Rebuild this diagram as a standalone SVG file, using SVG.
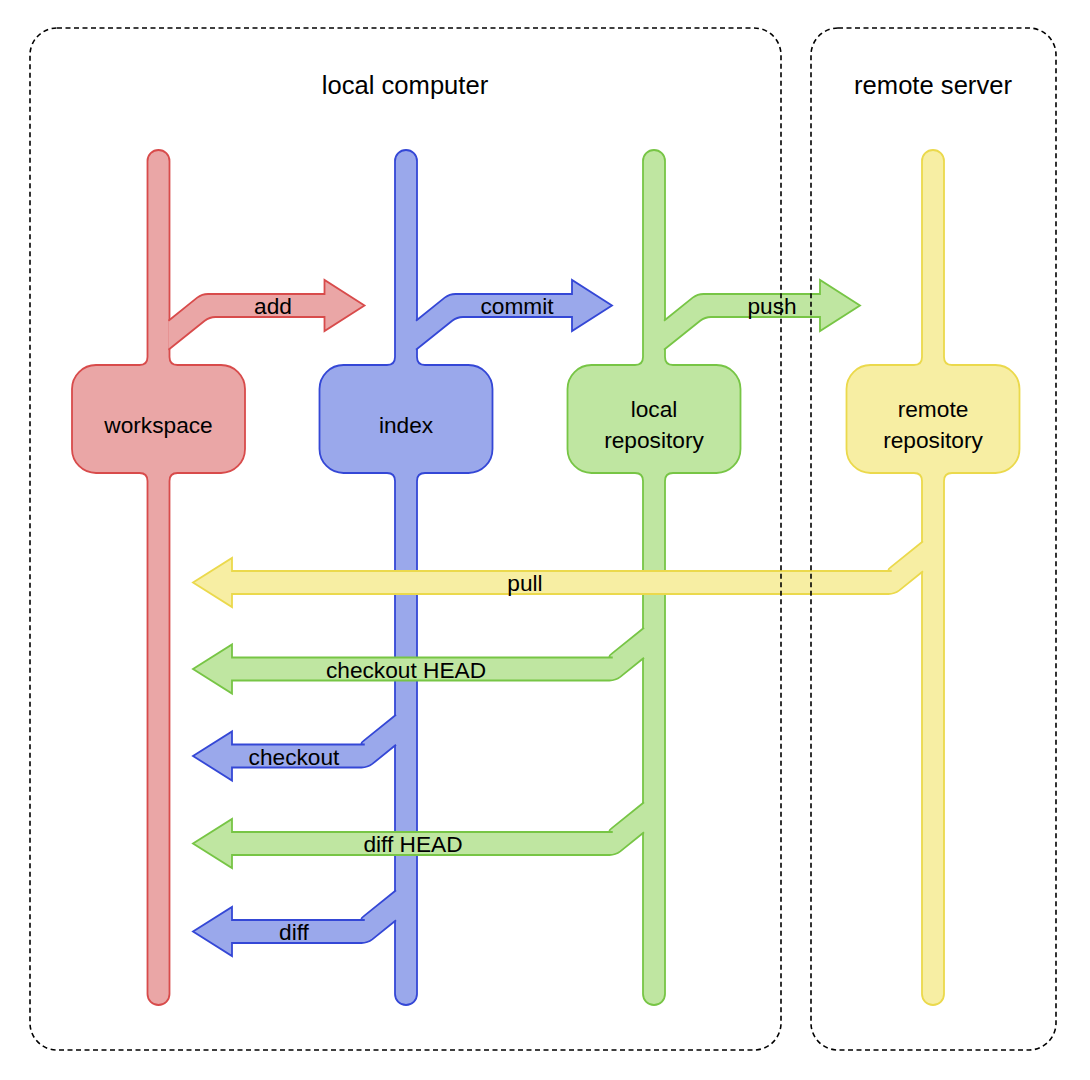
<svg xmlns="http://www.w3.org/2000/svg" xmlns:xlink="http://www.w3.org/1999/xlink" width="1090" height="1080" viewBox="0 0 1090 1080">
<style>
text{font-family:"Liberation Sans",Arial,"Noto Sans",sans-serif;fill:#000;text-anchor:middle;dominant-baseline:central}
.lbl{font-size:22.7px}
.hdr{font-size:25.6px}
.red{fill:#EAA6A6;stroke:#D84B4B;stroke-width:1.8}
.blue{fill:#9AA8EB;stroke:#3447D6;stroke-width:1.8}
.green{fill:#BFE6A1;stroke:#77C545;stroke-width:1.8}
.yellow{fill:#F7EEA3;stroke:#EBD94C;stroke-width:1.8}
.box{fill:none;stroke:#000;stroke-width:1.6;stroke-dasharray:5 3.5}
</style>
<defs>
<path id="pipe" d="M-11,161 A11,11 0 0 1 11,161 L11,357 Q11,365 19,365 L62.5,365 A24,24 0 0 1 86.5,389 L86.5,449 A24,24 0 0 1 62.5,473 L19,473 Q11,473 11,481 L11,994 A11,11 0 0 1 -11,994 L-11,481 Q-11,473 -19,473 L-62.5,473 A24,24 0 0 1 -86.5,449 L-86.5,389 A24,24 0 0 1 -62.5,365 L-19,365 Q-11,365 -11,357 Z"/>
<path id="rarrow" d="M-1,349.8 L35.2,320.8 Q40,317 46,317 L155,317 L155,331 L195,305.5 L155,280 L155,294 L38.5,294 Q32.5,294 27.7,297.6 L-1,320.8"/>
</defs>
<g id="workspace">
<use xlink:href="#pipe" x="158.5" class="red"/>
<text class="lbl" x="158.5" y="425">workspace</text>
</g>
<g id="index">
<use xlink:href="#pipe" x="406" class="blue"/>
<text class="lbl" x="406" y="425">index</text>
</g>
<g id="local-repository">
<use xlink:href="#pipe" x="654" class="green"/>
<text class="lbl" x="654" y="409">local</text>
<text class="lbl" x="654" y="440">repository</text>
</g>
<g id="remote-repository">
<use xlink:href="#pipe" x="933" class="yellow"/>
<text class="lbl" x="933" y="409">remote</text>
<text class="lbl" x="933" y="440">repository</text>
</g>
<g id="connectors">
<use xlink:href="#rarrow" x="169.5" class="red"/>
<text class="lbl" x="273" y="306">add</text>
<use xlink:href="#rarrow" x="417" class="blue"/>
<text class="lbl" x="517" y="306">commit</text>
<use xlink:href="#rarrow" x="665" class="green"/>
<text class="lbl" x="772" y="306">push</text>
<path class="yellow" d="M923,571.2 L899.3,590.4 Q894.5,594 888.5,594 L232,594 L232,607 L193,582.5 L232,558 L232,571 L891.75,571 Q885.75,571 890.55,567.4 L923,541.2"/>
<text class="lbl" x="525" y="583">pull</text>
<path class="green" d="M644,657.7 L620.3,676.9 Q615.5,680.5 609.5,680.5 L232,680.5 L232,693.5 L193,669 L232,644.5 L232,657.5 L612.75,657.5 Q606.75,657.5 611.55,653.9 L644,627.7"/>
<text class="lbl" x="406" y="670">checkout HEAD</text>
<path class="blue" d="M396,744.7 L372.3,763.9 Q367.5,767.5 361.5,767.5 L232,767.5 L232,780.5 L193,756 L232,731.5 L232,744.5 L364.75,744.5 Q358.75,744.5 363.55,740.9 L396,714.7"/>
<text class="lbl" x="294" y="757">checkout</text>
<path class="green" d="M644,832.2 L620.3,851.4 Q615.5,855 609.5,855 L232,855 L232,868 L193,843.5 L232,819 L232,832 L612.75,832 Q606.75,832 611.55,828.4 L644,802.2"/>
<text class="lbl" x="413" y="844">diff HEAD</text>
<path class="blue" d="M396,920.2 L372.3,939.4 Q367.5,943 361.5,943 L232,943 L232,956 L193,931.5 L232,907 L232,920 L364.75,920 Q358.75,920 363.55,916.4 L396,890.2"/>
<text class="lbl" x="294" y="932">diff</text>
</g>
<g id="local-computer">
<rect class="box" x="30" y="28" width="751" height="1022" rx="27"/>
<text class="hdr" x="405" y="85">local computer</text>
</g>
<g id="remote-server">
<rect class="box" x="811" y="28" width="245" height="1022" rx="27"/>
<text class="hdr" x="933" y="85">remote server</text>
</g>
</svg>
